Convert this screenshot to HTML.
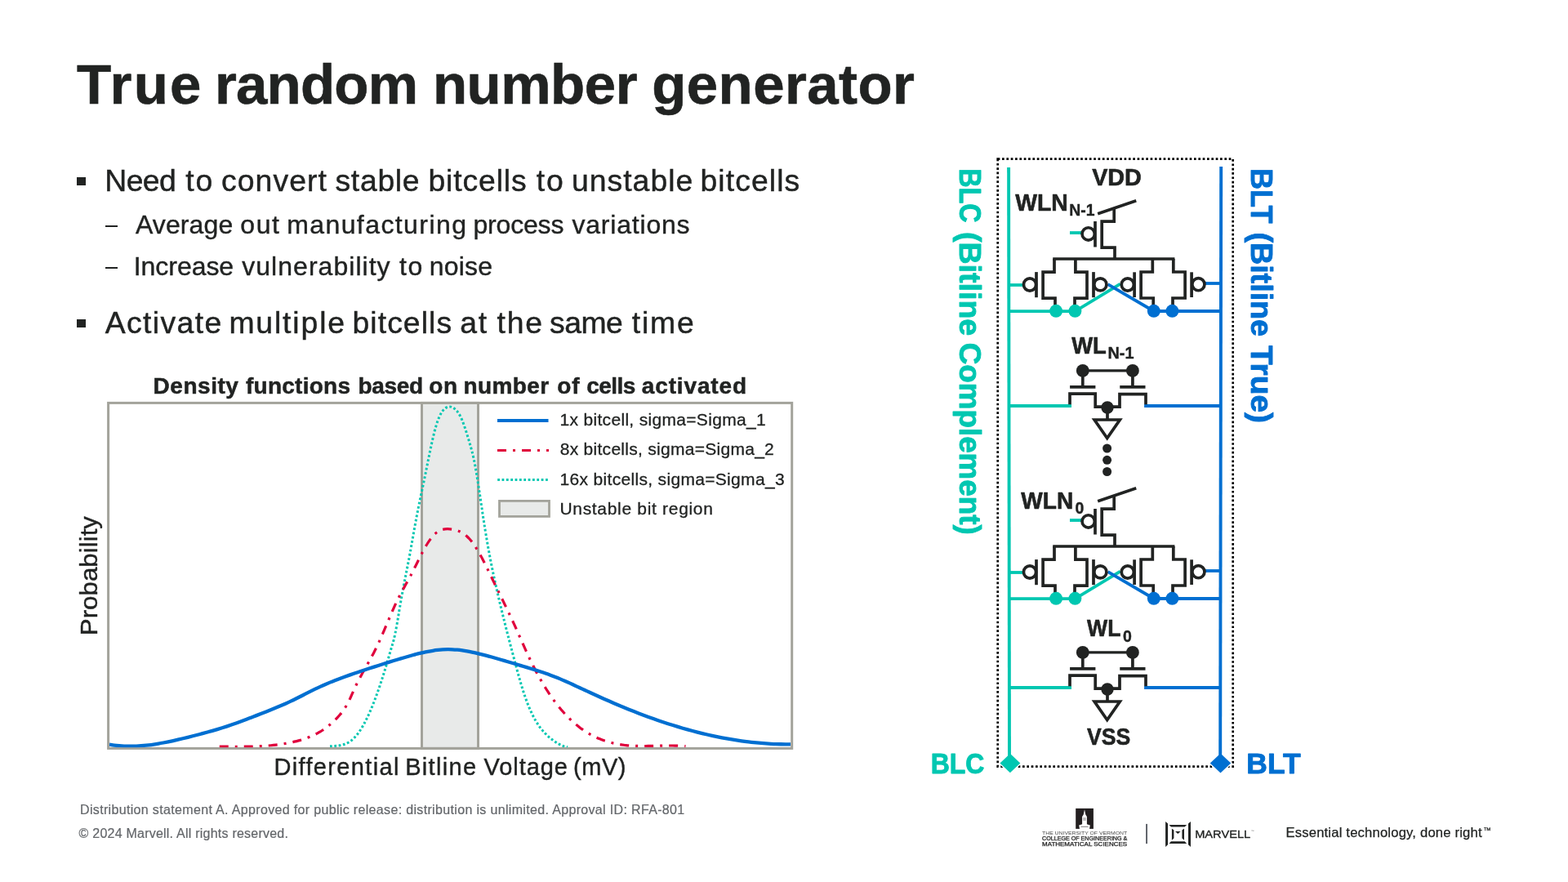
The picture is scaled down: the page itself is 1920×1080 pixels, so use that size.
<!DOCTYPE html>
<html lang="en">
<head>
<meta charset="utf-8">
<title>True random number generator</title>
<style>
html,body{margin:0;padding:0;background:#fff}
body{width:1920px;height:1080px;overflow:hidden;position:relative;font-family:"Liberation Sans",sans-serif;color:#212322}
.slide{position:absolute;left:0;top:0;width:1920px;height:1080px;background:#fff;overflow:hidden}
.t{position:absolute;margin:0;padding:0;white-space:nowrap;font-kerning:normal}
.w{position:absolute;top:0;white-space:nowrap}
ul,li{list-style:none;margin:0;padding:0}
.mk{position:absolute;background:#212322}
.sq1{left:94.3px;top:217px;width:10.5px;height:9.9px}
.sq2{left:94.3px;top:391px;width:10.5px;height:9.9px}
.d1{left:129.3px;top:276.2px;width:14.7px;height:2.2px}
.d2{left:129.3px;top:327.2px;width:14.7px;height:2.2px}
figure{margin:0;padding:0}
svg{position:absolute;overflow:visible}
svg.plot{left:80px;top:480px}
svg.ckt{left:1120px;top:180px}
svg.logos{left:1270px;top:984px}
#tm{left:1816.2px;top:1011.9px;font-size:9.5px;line-height:10px;color:#212322;-webkit-text-stroke:0.2px #212322}
#title{left:0;top:69px;font-size:69px;line-height:69px;font-weight:bold;color:#212322;-webkit-text-stroke:0.6px #212322}
#title_w0{left:94.03px;letter-spacing:2.217px}
#title_w1{left:262.88px;letter-spacing:-0.766px}
#title_w2{left:529.94px;letter-spacing:-0.488px}
#title_w3{left:798.14px;letter-spacing:0.447px}
#b1{left:0;top:202px;font-size:37.33px;line-height:38px;font-weight:normal;color:#212322;-webkit-text-stroke:0.45px #212322}
#b1_w0{left:128.37px;letter-spacing:-0.653px}
#b1_w1{left:227.34px;letter-spacing:1.867px}
#b1_w2{left:271.00px;letter-spacing:1.088px}
#b1_w3{left:410.53px;letter-spacing:0.690px}
#b1_w4{left:524.46px;letter-spacing:0.865px}
#b1_w5{left:656.67px;letter-spacing:1.867px}
#b1_w6{left:700.00px;letter-spacing:1.014px}
#b1_w7{left:857.53px;letter-spacing:1.082px}
#s1{left:0;top:259px;font-size:32px;line-height:32px;font-weight:normal;color:#212322;-webkit-text-stroke:0.4px #212322}
#s1_w0{left:165.92px;letter-spacing:0.121px}
#s1_w1{left:294.33px;letter-spacing:1.600px}
#s1_w2{left:351.16px;letter-spacing:1.417px}
#s1_w3{left:579.44px;letter-spacing:-0.175px}
#s1_w4{left:700.39px;letter-spacing:0.808px}
#s2{left:0;top:310px;font-size:32px;line-height:32px;font-weight:normal;color:#212322;-webkit-text-stroke:0.4px #212322}
#s2_w0{left:163.75px;letter-spacing:-0.050px}
#s2_w1{left:296.27px;letter-spacing:1.030px}
#s2_w2{left:488.95px;letter-spacing:1.600px}
#s2_w3{left:525.64px;letter-spacing:0.245px}
#b2{left:0;top:376px;font-size:37.33px;line-height:38px;font-weight:normal;color:#212322;-webkit-text-stroke:0.45px #212322}
#b2_w0{left:128.70px;letter-spacing:1.388px}
#b2_w1{left:280.39px;letter-spacing:1.867px}
#b2_w2{left:431.51px;letter-spacing:1.070px}
#b2_w3{left:563.17px;letter-spacing:1.867px}
#b2_w4{left:608.47px;letter-spacing:1.867px}
#b2_w5{left:673.06px;letter-spacing:-0.520px}
#b2_w6{left:773.67px;letter-spacing:1.867px}
#ct{left:0;top:459px;font-size:28px;line-height:28px;font-weight:bold;color:#212322;-webkit-text-stroke:0.5px #212322}
#ct_w0{left:187.60px;letter-spacing:0.529px}
#ct_w1{left:301.00px;letter-spacing:0.250px}
#ct_w2{left:438.43px;letter-spacing:-0.341px}
#ct_w3{left:525.31px;letter-spacing:0.530px}
#ct_w4{left:567.55px;letter-spacing:0.375px}
#ct_w5{left:682.18px;letter-spacing:0.900px}
#ct_w6{left:718.30px;letter-spacing:-0.534px}
#ct_w7{left:785.77px;letter-spacing:0.866px}
#xl{left:0;top:925px;font-size:29px;line-height:29px;font-weight:normal;color:#212322;-webkit-text-stroke:0.4px #212322}
#xl_w0{left:335.41px;letter-spacing:1.350px}
#xl_w1{left:496.15px;letter-spacing:1.314px}
#xl_w2{left:592.59px;letter-spacing:0.934px}
#xl_w3{left:702.07px;letter-spacing:0.506px}
#lg1{left:685.53px;top:503px;font-size:21px;line-height:21px;letter-spacing:0.315px;font-weight:normal;color:#212322;-webkit-text-stroke:0.3px #212322}
#lg2{left:685.75px;top:539px;font-size:21px;line-height:21px;letter-spacing:0.280px;font-weight:normal;color:#212322;-webkit-text-stroke:0.3px #212322}
#lg3{left:685.53px;top:576px;font-size:21px;line-height:21px;letter-spacing:0.322px;font-weight:normal;color:#212322;-webkit-text-stroke:0.3px #212322}
#lg4{left:685.41px;top:612px;font-size:21px;line-height:21px;letter-spacing:0.689px;font-weight:normal;color:#212322;-webkit-text-stroke:0.3px #212322}
#f1{left:98.03px;top:984px;font-size:16px;line-height:16px;letter-spacing:0.337px;font-weight:normal;color:#63666A;-webkit-text-stroke:0.2px #63666A}
#f2{left:96.61px;top:1013px;font-size:16px;line-height:16px;letter-spacing:0.227px;font-weight:normal;color:#63666A;-webkit-text-stroke:0.2px #63666A}
#tag{left:1574.47px;top:1011px;font-size:16.6px;line-height:17px;letter-spacing:0.196px;font-weight:normal;color:#212322;-webkit-text-stroke:0.25px #212322}
</style>
</head>
<body>
<main class="slide">
<header><h1 class="t" id="title"><span class="w" id="title_w0">True</span> <span class="w" id="title_w1">random</span> <span class="w" id="title_w2">number</span> <span class="w" id="title_w3">generator</span></h1></header>
<section class="content">
<ul>
<li><span class="mk sq1"></span><p class="t" id="b1"><span class="w" id="b1_w0">Need</span> <span class="w" id="b1_w1">to</span> <span class="w" id="b1_w2">convert</span> <span class="w" id="b1_w3">stable</span> <span class="w" id="b1_w4">bitcells</span> <span class="w" id="b1_w5">to</span> <span class="w" id="b1_w6">unstable</span> <span class="w" id="b1_w7">bitcells</span></p>
<ul>
<li><span class="mk d1"></span><p class="t" id="s1"><span class="w" id="s1_w0">Average</span> <span class="w" id="s1_w1">out</span> <span class="w" id="s1_w2">manufacturing</span> <span class="w" id="s1_w3">process</span> <span class="w" id="s1_w4">variations</span></p></li>
<li><span class="mk d2"></span><p class="t" id="s2"><span class="w" id="s2_w0">Increase</span> <span class="w" id="s2_w1">vulnerability</span> <span class="w" id="s2_w2">to</span> <span class="w" id="s2_w3">noise</span></p></li>
</ul></li>
<li><span class="mk sq2"></span><p class="t" id="b2"><span class="w" id="b2_w0">Activate</span> <span class="w" id="b2_w1">multiple</span> <span class="w" id="b2_w2">bitcells</span> <span class="w" id="b2_w3">at</span> <span class="w" id="b2_w4">the</span> <span class="w" id="b2_w5">same</span> <span class="w" id="b2_w6">time</span></p></li>
</ul>
</section>
<figure class="chart">
<figcaption class="t" id="ct"><span class="w" id="ct_w0">Density</span> <span class="w" id="ct_w1">functions</span> <span class="w" id="ct_w2">based</span> <span class="w" id="ct_w3">on</span> <span class="w" id="ct_w4">number</span> <span class="w" id="ct_w5">of</span> <span class="w" id="ct_w6">cells</span> <span class="w" id="ct_w7">activated</span></figcaption>
<svg class="plot" width="900" height="450" viewBox="80 480 900 450" font-family="'Liberation Sans', sans-serif" role="img" aria-label="Density functions chart">
<defs><clipPath id="pa"><rect x="134" y="495" width="834" height="420.2"/></clipPath></defs>
<rect x="516.5" y="493.4" width="69" height="423" fill="#E8EAE9" stroke="#A3A39B" stroke-width="3"/>
<rect x="132.6" y="493.4" width="837.1" height="423" fill="none" stroke="#A3A39B" stroke-width="3"/>
<g clip-path="url(#pa)" fill="none">
<path d="M404.00,913.82 C404.33,913.80 405.33,913.74 406.00,913.70 C406.67,913.66 407.33,913.63 408.00,913.59 C408.67,913.55 409.33,913.51 410.00,913.46 C410.67,913.42 411.33,913.37 412.00,913.30 C412.67,913.24 413.33,913.17 414.00,913.09 C414.67,913.00 415.33,912.91 416.00,912.79 C416.67,912.68 417.33,912.55 418.00,912.41 C418.67,912.26 419.33,912.09 420.00,911.90 C420.67,911.71 421.33,911.49 422.00,911.25 C422.67,911.01 423.33,910.74 424.00,910.44 C424.67,910.15 425.33,909.82 426.00,909.46 C426.67,909.10 427.33,908.70 428.00,908.27 C428.67,907.84 429.33,907.37 430.00,906.86 C430.67,906.35 431.33,905.80 432.00,905.20 C432.67,904.61 433.33,903.97 434.00,903.28 C434.67,902.60 435.33,901.86 436.00,901.08 C436.67,900.31 437.33,899.48 438.00,898.61 C438.67,897.73 439.33,896.82 440.00,895.85 C440.67,894.89 441.33,893.88 442.00,892.83 C442.67,891.78 443.33,890.68 444.00,889.54 C444.67,888.40 445.33,887.21 446.00,885.98 C446.67,884.76 447.33,883.48 448.00,882.17 C448.67,880.86 449.33,879.50 450.00,878.11 C450.67,876.71 451.33,875.27 452.00,873.79 C452.67,872.32 453.33,870.79 454.00,869.24 C454.67,867.68 455.33,866.08 456.00,864.44 C456.67,862.80 457.33,861.12 458.00,859.40 C458.67,857.68 459.33,855.93 460.00,854.13 C460.67,852.34 461.33,850.51 462.00,848.64 C462.67,846.77 463.33,844.87 464.00,842.93 C464.67,840.99 465.33,839.01 466.00,837.01 C466.67,835.00 467.33,832.95 468.00,830.88 C468.67,828.80 469.33,826.70 470.00,824.56 C470.67,822.42 471.33,820.25 472.00,818.04 C472.67,815.84 473.33,813.61 474.00,811.35 C474.67,809.09 475.33,806.78 476.00,804.48 C476.67,802.19 477.33,799.81 478.00,797.57 C478.67,795.32 479.33,793.28 480.00,791.04 C480.67,788.79 481.33,786.72 482.00,784.09 C482.67,781.47 483.33,778.53 484.00,775.28 C484.67,772.04 485.33,768.36 486.00,764.64 C486.67,760.92 487.33,756.90 488.00,752.96 C488.67,749.03 489.33,744.93 490.00,741.04 C490.67,737.15 491.33,733.32 492.00,729.63 C492.67,725.95 493.33,722.42 494.00,718.93 C494.67,715.43 495.33,712.05 496.00,708.66 C496.67,705.27 497.33,701.94 498.00,698.56 C498.67,695.18 499.33,691.82 500.00,688.36 C500.67,684.90 501.33,681.39 502.00,677.78 C502.67,674.17 503.33,670.44 504.00,666.71 C504.67,662.98 505.33,659.15 506.00,655.40 C506.67,651.64 507.33,647.84 508.00,644.16 C508.67,640.49 509.33,636.84 510.00,633.33 C510.67,629.83 511.33,626.45 512.00,623.13 C512.67,619.81 513.33,616.61 514.00,613.41 C514.67,610.22 515.33,607.11 516.00,603.96 C516.67,600.81 517.33,597.71 518.00,594.54 C518.67,591.37 519.33,588.17 520.00,584.94 C520.67,581.70 521.33,578.41 522.00,575.12 C522.67,571.83 523.33,568.49 524.00,565.19 C524.67,561.90 525.33,558.57 526.00,555.34 C526.67,552.11 527.33,548.89 528.00,545.80 C528.67,542.71 529.33,539.68 530.00,536.80 C530.67,533.93 531.33,531.15 532.00,528.58 C532.67,526.00 533.33,523.57 534.00,521.35 C534.67,519.13 535.33,517.12 536.00,515.28 C536.67,513.43 537.33,511.79 538.00,510.29 C538.67,508.80 539.33,507.48 540.00,506.31 C540.67,505.13 541.33,504.11 542.00,503.22 C542.67,502.32 543.33,501.58 544.00,500.94 C544.67,500.30 545.33,499.79 546.00,499.37 C546.67,498.95 547.33,498.64 548.00,498.41 C548.67,498.19 549.33,498.06 550.00,498.01 C550.67,497.96 551.33,498.01 552.00,498.14 C552.67,498.27 553.33,498.49 554.00,498.78 C554.67,499.08 555.33,499.47 556.00,499.94 C556.67,500.40 557.33,500.94 558.00,501.59 C558.67,502.23 559.33,502.96 560.00,503.81 C560.67,504.66 561.33,505.60 562.00,506.68 C562.67,507.77 563.33,508.96 564.00,510.31 C564.67,511.66 565.33,513.16 566.00,514.78 C566.67,516.40 567.33,518.18 568.00,520.04 C568.67,521.89 569.33,523.88 570.00,525.91 C570.67,527.94 571.33,530.08 572.00,532.23 C572.67,534.38 573.33,536.61 574.00,538.83 C574.67,541.06 575.33,543.26 576.00,545.60 C576.67,547.94 577.33,550.26 578.00,552.87 C578.67,555.48 579.33,558.19 580.00,561.27 C580.67,564.34 581.33,567.72 582.00,571.33 C582.67,574.93 583.33,578.87 584.00,582.91 C584.67,586.95 585.33,591.25 586.00,595.57 C586.67,599.90 587.33,604.41 588.00,608.88 C588.67,613.34 589.33,617.92 590.00,622.37 C590.67,626.83 591.33,631.30 592.00,635.62 C592.67,639.94 593.33,644.17 594.00,648.29 C594.67,652.41 595.33,656.42 596.00,660.33 C596.67,664.24 597.33,668.04 598.00,671.74 C598.67,675.44 599.33,679.03 600.00,682.52 C600.67,686.02 601.33,689.40 602.00,692.72 C602.67,696.03 603.33,699.25 604.00,702.41 C604.67,705.58 605.33,708.66 606.00,711.70 C606.67,714.75 607.33,717.73 608.00,720.69 C608.67,723.64 609.33,726.55 610.00,729.43 C610.67,732.31 611.33,735.15 612.00,737.96 C612.67,740.78 613.33,743.55 614.00,746.30 C614.67,749.06 615.33,751.78 616.00,754.48 C616.67,757.17 617.33,759.85 618.00,762.50 C618.67,765.15 619.33,767.78 620.00,770.39 C620.67,773.01 621.33,775.60 622.00,778.18 C622.67,780.76 623.33,783.32 624.00,785.88 C624.67,788.44 625.33,790.98 626.00,793.52 C626.67,796.05 627.33,798.58 628.00,801.11 C628.67,803.63 629.33,806.16 630.00,808.67 C630.67,811.17 631.33,813.68 632.00,816.15 C632.67,818.62 633.33,821.08 634.00,823.50 C634.67,825.91 635.33,828.31 636.00,830.65 C636.67,832.99 637.33,835.30 638.00,837.54 C638.67,839.79 639.33,841.99 640.00,844.12 C640.67,846.25 641.33,848.33 642.00,850.32 C642.67,852.32 643.33,854.24 644.00,856.10 C644.67,857.95 645.33,859.73 646.00,861.45 C646.67,863.17 647.33,864.81 648.00,866.40 C648.67,867.99 649.33,869.51 650.00,870.97 C650.67,872.43 651.33,873.83 652.00,875.18 C652.67,876.53 653.33,877.82 654.00,879.05 C654.67,880.29 655.33,881.47 656.00,882.61 C656.67,883.75 657.33,884.83 658.00,885.87 C658.67,886.91 659.33,887.91 660.00,888.86 C660.67,889.81 661.33,890.72 662.00,891.60 C662.67,892.47 663.33,893.30 664.00,894.10 C664.67,894.90 665.33,895.67 666.00,896.40 C666.67,897.14 667.33,897.84 668.00,898.51 C668.67,899.19 669.33,899.83 670.00,900.46 C670.67,901.08 671.33,901.68 672.00,902.26 C672.67,902.84 673.33,903.39 674.00,903.94 C674.67,904.48 675.33,905.00 676.00,905.51 C676.67,906.02 677.33,906.52 678.00,907.00 C678.67,907.48 679.33,907.95 680.00,908.40 C680.67,908.85 681.33,909.28 682.00,909.69 C682.67,910.10 683.33,910.49 684.00,910.86 C684.67,911.23 685.33,911.58 686.00,911.91 C686.67,912.23 687.33,912.53 688.00,912.81 C688.67,913.08 689.33,913.34 690.00,913.56 C690.67,913.78 691.33,913.98 692.00,914.14 C692.67,914.31 693.50,914.46 694.00,914.55 C694.50,914.64 694.83,914.66 695.00,914.68" stroke="#00C7B1" stroke-width="3" stroke-dasharray="2.75 2.6"/>
<path d="M268.75,914.20 C269.25,914.20 270.75,914.20 271.75,914.20 C272.75,914.20 273.75,914.20 274.75,914.20 C275.75,914.20 276.75,914.20 277.75,914.21 C278.75,914.21 279.75,914.21 280.75,914.22 C281.75,914.22 282.75,914.22 283.75,914.22 C284.75,914.23 285.75,914.23 286.75,914.23 C287.75,914.23 288.75,914.23 289.75,914.23 C290.75,914.23 291.75,914.23 292.75,914.23 C293.75,914.22 294.75,914.22 295.75,914.22 C296.75,914.21 297.75,914.20 298.75,914.19 C299.75,914.18 300.75,914.17 301.75,914.16 C302.75,914.15 303.75,914.13 304.75,914.11 C305.75,914.09 306.75,914.07 307.75,914.05 C308.75,914.02 309.75,914.00 310.75,913.97 C311.75,913.94 312.75,913.90 313.75,913.86 C314.75,913.83 315.75,913.79 316.75,913.74 C317.75,913.70 318.75,913.65 319.75,913.59 C320.75,913.54 321.75,913.48 322.75,913.42 C323.75,913.36 324.75,913.29 325.75,913.22 C326.75,913.15 327.75,913.07 328.75,912.99 C329.75,912.91 330.75,912.82 331.75,912.73 C332.75,912.63 333.75,912.53 334.75,912.43 C335.75,912.32 336.75,912.21 337.75,912.10 C338.75,911.98 339.75,911.86 340.75,911.73 C341.75,911.60 342.75,911.46 343.75,911.32 C344.75,911.17 345.75,911.02 346.75,910.86 C347.75,910.71 348.75,910.54 349.75,910.37 C350.75,910.20 351.75,910.02 352.75,909.83 C353.75,909.64 354.75,909.44 355.75,909.24 C356.75,909.03 357.75,908.82 358.75,908.60 C359.75,908.38 360.75,908.15 361.75,907.91 C362.75,907.67 363.75,907.42 364.75,907.16 C365.75,906.89 366.75,906.62 367.75,906.34 C368.75,906.05 369.75,905.76 370.75,905.44 C371.75,905.13 372.75,904.80 373.75,904.46 C374.75,904.11 375.75,903.75 376.75,903.37 C377.75,903.00 378.75,902.60 379.75,902.18 C380.75,901.77 381.75,901.33 382.75,900.87 C383.75,900.42 384.75,899.94 385.75,899.44 C386.75,898.94 387.75,898.41 388.75,897.86 C389.75,897.31 390.75,896.74 391.75,896.14 C392.75,895.54 393.75,894.92 394.75,894.26 C395.75,893.61 396.75,892.93 397.75,892.21 C398.75,891.50 399.75,890.76 400.75,889.99 C401.75,889.22 402.75,888.42 403.75,887.58 C404.75,886.74 405.75,885.87 406.75,884.97 C407.75,884.07 408.75,883.13 409.75,882.15 C410.75,881.18 411.75,880.18 412.75,879.12 C413.75,878.06 414.75,876.98 415.75,875.81 C416.75,874.65 417.75,873.43 418.75,872.11 C419.75,870.79 420.75,869.40 421.75,867.87 C422.75,866.35 423.75,864.73 424.75,862.96 C425.75,861.19 426.75,859.29 427.75,857.25 C428.75,855.20 429.75,852.92 430.75,850.70 C431.75,848.48 432.75,846.11 433.75,843.92 C434.75,841.74 435.75,839.63 436.75,837.60 C437.75,835.57 438.75,833.64 439.75,831.74 C440.75,829.84 441.75,828.00 442.75,826.18 C443.75,824.35 444.75,822.58 445.75,820.80 C446.75,819.02 447.75,817.27 448.75,815.50 C449.75,813.73 450.75,811.97 451.75,810.18 C452.75,808.40 453.75,806.60 454.75,804.76 C455.75,802.92 456.75,801.06 457.75,799.14 C458.75,797.22 459.75,795.26 460.75,793.22 C461.75,791.18 462.75,789.07 463.75,786.91 C464.75,784.75 465.75,782.51 466.75,780.25 C467.75,777.99 468.75,775.66 469.75,773.34 C470.75,771.01 471.75,768.64 472.75,766.28 C473.75,763.92 474.75,761.54 475.75,759.19 C476.75,756.84 477.75,754.48 478.75,752.17 C479.75,749.86 480.75,747.57 481.75,745.33 C482.75,743.10 483.75,740.90 484.75,738.78 C485.75,736.66 486.75,734.61 487.75,732.62 C488.75,730.62 489.75,728.70 490.75,726.81 C491.75,724.91 492.75,723.08 493.75,721.24 C494.75,719.41 495.75,717.62 496.75,715.81 C497.75,714.01 498.75,712.22 499.75,710.40 C500.75,708.58 501.75,706.77 502.75,704.90 C503.75,703.03 504.75,701.13 505.75,699.19 C506.75,697.25 507.75,695.24 508.75,693.24 C509.75,691.25 510.75,689.21 511.75,687.20 C512.75,685.19 513.75,683.17 514.75,681.20 C515.75,679.24 516.75,677.28 517.75,675.41 C518.75,673.54 519.75,671.70 520.75,669.97 C521.75,668.23 522.75,666.57 523.75,665.00 C524.75,663.44 525.75,661.96 526.75,660.59 C527.75,659.22 528.75,657.95 529.75,656.80 C530.75,655.65 531.75,654.61 532.75,653.69 C533.75,652.78 534.75,652.00 535.75,651.32 C536.75,650.65 537.75,650.10 538.75,649.63 C539.75,649.16 540.75,648.81 541.75,648.52 C542.75,648.24 543.75,648.05 544.75,647.91 C545.75,647.78 546.75,647.72 547.75,647.71 C548.75,647.69 549.75,647.74 550.75,647.82 C551.75,647.90 552.75,648.01 553.75,648.16 C554.75,648.32 555.75,648.50 556.75,648.74 C557.75,648.97 558.75,649.25 559.75,649.59 C560.75,649.93 561.75,650.31 562.75,650.77 C563.75,651.22 564.75,651.74 565.75,652.33 C566.75,652.92 567.75,653.57 568.75,654.31 C569.75,655.05 570.75,655.86 571.75,656.77 C572.75,657.67 573.75,658.66 574.75,659.75 C575.75,660.84 576.75,662.02 577.75,663.30 C578.75,664.58 579.75,665.97 580.75,667.43 C581.75,668.89 582.75,670.45 583.75,672.06 C584.75,673.68 585.75,675.39 586.75,677.14 C587.75,678.89 588.75,680.72 589.75,682.58 C590.75,684.45 591.75,686.37 592.75,688.32 C593.75,690.27 594.75,692.27 595.75,694.29 C596.75,696.30 597.75,698.35 598.75,700.41 C599.75,702.46 600.75,704.54 601.75,706.62 C602.75,708.69 603.75,710.77 604.75,712.83 C605.75,714.90 606.75,716.96 607.75,719.01 C608.75,721.06 609.75,723.10 610.75,725.15 C611.75,727.19 612.75,729.23 613.75,731.27 C614.75,733.31 615.75,735.35 616.75,737.41 C617.75,739.46 618.75,741.51 619.75,743.58 C620.75,745.65 621.75,747.73 622.75,749.82 C623.75,751.92 624.75,754.03 625.75,756.16 C626.75,758.29 627.75,760.43 628.75,762.61 C629.75,764.78 630.75,766.98 631.75,769.20 C632.75,771.42 633.75,773.67 634.75,775.92 C635.75,778.17 636.75,780.43 637.75,782.69 C638.75,784.95 639.75,787.21 640.75,789.45 C641.75,791.69 642.75,793.93 643.75,796.13 C644.75,798.34 645.75,800.53 646.75,802.67 C647.75,804.81 648.75,806.93 649.75,808.99 C650.75,811.06 651.75,813.09 652.75,815.07 C653.75,817.06 654.75,819.01 655.75,820.91 C656.75,822.82 657.75,824.69 658.75,826.52 C659.75,828.35 660.75,830.15 661.75,831.90 C662.75,833.66 663.75,835.38 664.75,837.06 C665.75,838.74 666.75,840.38 667.75,841.99 C668.75,843.60 669.75,845.18 670.75,846.71 C671.75,848.25 672.75,849.76 673.75,851.22 C674.75,852.69 675.75,854.13 676.75,855.53 C677.75,856.93 678.75,858.30 679.75,859.63 C680.75,860.97 681.75,862.27 682.75,863.54 C683.75,864.81 684.75,866.05 685.75,867.26 C686.75,868.47 687.75,869.64 688.75,870.79 C689.75,871.94 690.75,873.05 691.75,874.14 C692.75,875.23 693.75,876.28 694.75,877.31 C695.75,878.34 696.75,879.34 697.75,880.31 C698.75,881.28 699.75,882.23 700.75,883.14 C701.75,884.06 702.75,884.95 703.75,885.81 C704.75,886.68 705.75,887.51 706.75,888.32 C707.75,889.13 708.75,889.92 709.75,890.68 C710.75,891.44 711.75,892.18 712.75,892.89 C713.75,893.60 714.75,894.29 715.75,894.95 C716.75,895.62 717.75,896.26 718.75,896.88 C719.75,897.50 720.75,898.09 721.75,898.67 C722.75,899.24 723.75,899.79 724.75,900.33 C725.75,900.86 726.75,901.37 727.75,901.86 C728.75,902.35 729.75,902.82 730.75,903.27 C731.75,903.73 732.75,904.16 733.75,904.57 C734.75,904.99 735.75,905.38 736.75,905.76 C737.75,906.14 738.75,906.50 739.75,906.84 C740.75,907.18 741.75,907.51 742.75,907.82 C743.75,908.13 744.75,908.42 745.75,908.70 C746.75,908.98 747.75,909.24 748.75,909.49 C749.75,909.74 750.75,909.97 751.75,910.19 C752.75,910.41 753.75,910.62 754.75,910.81 C755.75,911.00 756.75,911.18 757.75,911.35 C758.75,911.52 759.75,911.67 760.75,911.82 C761.75,911.96 762.75,912.09 763.75,912.22 C764.75,912.34 765.75,912.45 766.75,912.55 C767.75,912.65 768.75,912.74 769.75,912.82 C770.75,912.91 771.75,912.98 772.75,913.04 C773.75,913.11 774.75,913.17 775.75,913.22 C776.75,913.26 777.75,913.31 778.75,913.34 C779.75,913.38 780.75,913.40 781.75,913.43 C782.75,913.45 783.75,913.46 784.75,913.47 C785.75,913.49 786.75,913.49 787.75,913.49 C788.75,913.49 789.75,913.49 790.75,913.48 C791.75,913.48 792.75,913.47 793.75,913.45 C794.75,913.44 795.75,913.42 796.75,913.41 C797.75,913.39 798.75,913.37 799.75,913.35 C800.75,913.33 801.75,913.30 802.75,913.28 C803.75,913.26 804.75,913.23 805.75,913.21 C806.75,913.19 807.75,913.16 808.75,913.14 C809.75,913.12 810.75,913.10 811.75,913.08 C812.75,913.06 813.75,913.05 814.75,913.03 C815.75,913.02 816.75,913.01 817.75,913.00 C818.75,912.99 819.75,912.98 820.75,912.98 C821.75,912.98 822.75,912.99 823.75,913.00 C824.75,913.01 825.75,913.02 826.75,913.04 C827.75,913.06 828.75,913.08 829.75,913.12 C830.75,913.15 831.75,913.19 832.75,913.23 C833.75,913.28 834.75,913.33 835.75,913.40 C836.75,913.46 838.12,913.56 838.75,913.61 C839.38,913.65 839.38,913.66 839.50,913.67" stroke="#E0003C" stroke-width="3.2" stroke-dasharray="11 8 3 8"/>
<path d="M134.00,911.59 C135.00,911.74 138.00,912.25 140.00,912.51 C142.00,912.77 144.00,912.98 146.00,913.16 C148.00,913.33 150.00,913.46 152.00,913.56 C154.00,913.65 156.00,913.70 158.00,913.72 C160.00,913.73 162.00,913.71 164.00,913.66 C166.00,913.60 168.00,913.51 170.00,913.39 C172.00,913.27 174.00,913.11 176.00,912.93 C178.00,912.75 180.00,912.54 182.00,912.30 C184.00,912.06 186.00,911.80 188.00,911.51 C190.00,911.22 192.00,910.91 194.00,910.57 C196.00,910.24 198.00,909.88 200.00,909.51 C202.00,909.13 204.00,908.74 206.00,908.33 C208.00,907.92 210.00,907.49 212.00,907.05 C214.00,906.61 216.00,906.16 218.00,905.69 C220.00,905.23 222.00,904.75 224.00,904.27 C226.00,903.79 228.00,903.29 230.00,902.79 C232.00,902.29 234.00,901.79 236.00,901.28 C238.00,900.77 240.00,900.26 242.00,899.74 C244.00,899.21 246.00,898.69 248.00,898.15 C250.00,897.62 252.00,897.07 254.00,896.52 C256.00,895.97 258.00,895.41 260.00,894.83 C262.00,894.26 264.00,893.67 266.00,893.08 C268.00,892.48 270.00,891.87 272.00,891.24 C274.00,890.62 276.00,889.98 278.00,889.33 C280.00,888.67 282.00,888.00 284.00,887.32 C286.00,886.63 288.00,885.92 290.00,885.20 C292.00,884.48 294.00,883.75 296.00,883.00 C298.00,882.26 300.00,881.50 302.00,880.74 C304.00,879.98 306.00,879.20 308.00,878.44 C310.00,877.67 312.00,876.89 314.00,876.12 C316.00,875.35 318.00,874.57 320.00,873.79 C322.00,873.01 324.00,872.23 326.00,871.44 C328.00,870.65 330.00,869.86 332.00,869.05 C334.00,868.24 336.00,867.43 338.00,866.59 C340.00,865.76 342.00,864.92 344.00,864.06 C346.00,863.20 348.00,862.32 350.00,861.42 C352.00,860.53 354.00,859.61 356.00,858.67 C358.00,857.73 360.00,856.77 362.00,855.78 C364.00,854.80 366.00,853.79 368.00,852.78 C370.00,851.76 372.00,850.73 374.00,849.71 C376.00,848.69 378.00,847.66 380.00,846.66 C382.00,845.66 384.00,844.66 386.00,843.69 C388.00,842.72 390.00,841.78 392.00,840.86 C394.00,839.94 396.00,839.04 398.00,838.17 C400.00,837.30 402.00,836.45 404.00,835.62 C406.00,834.79 408.00,833.98 410.00,833.20 C412.00,832.41 414.00,831.65 416.00,830.90 C418.00,830.15 420.00,829.43 422.00,828.71 C424.00,827.99 426.00,827.29 428.00,826.60 C430.00,825.91 432.00,825.23 434.00,824.55 C436.00,823.87 438.00,823.21 440.00,822.54 C442.00,821.87 444.00,821.21 446.00,820.55 C448.00,819.89 450.00,819.23 452.00,818.58 C454.00,817.92 456.00,817.27 458.00,816.63 C460.00,815.98 462.00,815.34 464.00,814.70 C466.00,814.06 468.00,813.43 470.00,812.80 C472.00,812.17 474.00,811.54 476.00,810.92 C478.00,810.30 480.00,809.68 482.00,809.07 C484.00,808.45 486.00,807.84 488.00,807.24 C490.00,806.64 492.00,806.03 494.00,805.44 C496.00,804.85 498.00,804.26 500.00,803.69 C502.00,803.12 504.00,802.56 506.00,802.02 C508.00,801.48 510.00,800.96 512.00,800.46 C514.00,799.97 516.00,799.49 518.00,799.05 C520.00,798.60 522.00,798.18 524.00,797.80 C526.00,797.42 528.00,797.07 530.00,796.77 C532.00,796.46 534.00,796.19 536.00,795.97 C538.00,795.75 540.00,795.56 542.00,795.43 C544.00,795.31 546.00,795.22 548.00,795.20 C550.00,795.18 552.00,795.21 554.00,795.30 C556.00,795.38 558.00,795.53 560.00,795.72 C562.00,795.91 564.00,796.16 566.00,796.44 C568.00,796.72 570.00,797.05 572.00,797.40 C574.00,797.76 576.00,798.16 578.00,798.57 C580.00,798.99 582.00,799.44 584.00,799.90 C586.00,800.36 588.00,800.85 590.00,801.35 C592.00,801.85 594.00,802.37 596.00,802.90 C598.00,803.42 600.00,803.97 602.00,804.52 C604.00,805.08 606.00,805.64 608.00,806.22 C610.00,806.79 612.00,807.37 614.00,807.96 C616.00,808.54 618.00,809.14 620.00,809.73 C622.00,810.33 624.00,810.93 626.00,811.52 C628.00,812.12 630.00,812.72 632.00,813.31 C634.00,813.91 636.00,814.50 638.00,815.09 C640.00,815.69 642.00,816.28 644.00,816.88 C646.00,817.48 648.00,818.08 650.00,818.69 C652.00,819.31 654.00,819.92 656.00,820.56 C658.00,821.19 660.00,821.83 662.00,822.49 C664.00,823.15 666.00,823.82 668.00,824.52 C670.00,825.21 672.00,825.92 674.00,826.66 C676.00,827.40 678.00,828.15 680.00,828.94 C682.00,829.72 684.00,830.54 686.00,831.37 C688.00,832.21 690.00,833.08 692.00,833.96 C694.00,834.84 696.00,835.75 698.00,836.66 C700.00,837.58 702.00,838.51 704.00,839.43 C706.00,840.36 708.00,841.30 710.00,842.23 C712.00,843.16 714.00,844.09 716.00,845.02 C718.00,845.94 720.00,846.87 722.00,847.79 C724.00,848.71 726.00,849.62 728.00,850.53 C730.00,851.44 732.00,852.35 734.00,853.25 C736.00,854.15 738.00,855.04 740.00,855.93 C742.00,856.82 744.00,857.70 746.00,858.57 C748.00,859.45 750.00,860.32 752.00,861.18 C754.00,862.04 756.00,862.89 758.00,863.73 C760.00,864.57 762.00,865.41 764.00,866.23 C766.00,867.06 768.00,867.88 770.00,868.68 C772.00,869.49 774.00,870.29 776.00,871.08 C778.00,871.86 780.00,872.64 782.00,873.41 C784.00,874.18 786.00,874.94 788.00,875.69 C790.00,876.44 792.00,877.18 794.00,877.91 C796.00,878.64 798.00,879.36 800.00,880.07 C802.00,880.78 804.00,881.48 806.00,882.16 C808.00,882.85 810.00,883.53 812.00,884.20 C814.00,884.87 816.00,885.52 818.00,886.17 C820.00,886.82 822.00,887.45 824.00,888.07 C826.00,888.70 828.00,889.31 830.00,889.91 C832.00,890.52 834.00,891.11 836.00,891.69 C838.00,892.27 840.00,892.83 842.00,893.39 C844.00,893.95 846.00,894.49 848.00,895.02 C850.00,895.56 852.00,896.08 854.00,896.59 C856.00,897.10 858.00,897.59 860.00,898.08 C862.00,898.56 864.00,899.04 866.00,899.50 C868.00,899.96 870.00,900.41 872.00,900.84 C874.00,901.28 876.00,901.70 878.00,902.11 C880.00,902.52 882.00,902.92 884.00,903.30 C886.00,903.69 888.00,904.06 890.00,904.42 C892.00,904.78 894.00,905.12 896.00,905.46 C898.00,905.79 900.00,906.11 902.00,906.41 C904.00,906.72 906.00,907.01 908.00,907.29 C910.00,907.57 912.00,907.83 914.00,908.08 C916.00,908.34 918.00,908.57 920.00,908.80 C922.00,909.02 924.00,909.23 926.00,909.42 C928.00,909.62 930.00,909.80 932.00,909.96 C934.00,910.13 936.00,910.28 938.00,910.42 C940.00,910.56 942.00,910.68 944.00,910.79 C946.00,910.89 948.00,910.99 950.00,911.06 C952.00,911.14 954.00,911.20 956.00,911.25 C958.00,911.30 960.00,911.33 962.00,911.35 C964.00,911.37 966.95,911.35 968.00,911.35 C969.05,911.35 968.25,911.35 968.30,911.35" stroke="#006FD1" stroke-width="4.3"/>
</g>
<line x1="609" y1="515" x2="671.5" y2="515" stroke="#006FD1" stroke-width="4"/>
<line x1="609" y1="551.5" x2="672" y2="551.5" stroke="#E0003C" stroke-width="2.9" stroke-dasharray="11 8 3 8"/>
<line x1="609.2" y1="587.5" x2="672" y2="587.5" stroke="#00C7B1" stroke-width="2.8" stroke-dasharray="2.75 2.6"/>
<rect x="611.5" y="613.4" width="61" height="19" fill="#E8EAE9" stroke="#A3A39B" stroke-width="2.8"/>
<text id="yl" font-size="30" font-weight="normal" fill="#212322" stroke="#212322" stroke-width="0.4" stroke-linejoin="round" textLength="146.30" lengthAdjust="spacingAndGlyphs" transform="translate(118.75,778.25) rotate(-90)">Probability</text>
</svg>
<div class="t" id="xl"><span class="w" id="xl_w0">Differential</span> <span class="w" id="xl_w1">Bitline</span> <span class="w" id="xl_w2">Voltage</span> <span class="w" id="xl_w3">(mV)</span></div>
<div class="t" id="lg1">1x bitcell, sigma=Sigma_1</div>
<div class="t" id="lg2">8x bitcells, sigma=Sigma_2</div>
<div class="t" id="lg3">16x bitcells, sigma=Sigma_3</div>
<div class="t" id="lg4">Unstable bit region</div>
</figure>
<figure class="circuit">
<svg class="ckt" width="500" height="790" viewBox="1120 180 500 790" font-family="'Liberation Sans', sans-serif" role="img" aria-label="Bitcell array schematic">
<rect x="1221.7" y="194.7" width="288" height="743.9" fill="none" stroke="#000" stroke-width="2.67" stroke-dasharray="2.67 2.67"/>
<path d="M1236.9,922.7 L1249.3,934.5 L1236.9,946.3 L1224.5,934.5 Z" fill="#00C7B1" stroke="#fff" stroke-width="2.6" paint-order="stroke"/>
<path d="M1494.5,922.5 L1507.2,934.5 L1494.5,946.5 L1481.8,934.5 Z" fill="#006FD1" stroke="#fff" stroke-width="2.6" paint-order="stroke"/>
<path d="M1235.1,205 L1236,930" stroke="#00C7B1" stroke-width="3.9" fill="none"/>
<path d="M1495.2,204 L1494.2,930" stroke="#006FD1" stroke-width="3.9" fill="none"/>
<g fill="none" stroke="#00C7B1" stroke-width="3.8">
<path d="M1310,285.05 H1326"/>
<path d="M1235,349 H1253"/>
<path d="M1235,381.1 H1316.5 L1371.8,347.6"/>
<path d="M1235,497 H1312"/>
</g>
<g fill="none" stroke="#006FD1" stroke-width="3.8">
<path d="M1495,347 H1476"/>
<path d="M1495,381 H1412.8 L1356.6,348.2"/>
<path d="M1495,497 H1401.1"/>
</g>
<g fill="none" stroke="#212322" stroke-width="3.7" stroke-linejoin="miter">
<path d="M1344.2,261.7 L1391.25,245.8"/>
<path d="M1364.2,255 V271.2 H1349.2 V303.1 H1365 V317"/>
<path d="M1341,271 V302.5"/>
<circle cx="1332.7" cy="286.4" r="7.65" fill="#fff"/>
<path d="M1289.2,317 H1438.4"/>
<path d="M1291,317 V333.1 H1277.1 V365.2 H1292 V376"/>
<path d="M1316.9,317 V333.1 H1331 V365.2 H1316 V376"/>
<path d="M1269,333.1 V364.2"/>
<path d="M1339,333.1 V364.2"/>
<circle cx="1261" cy="348.5" r="7.55" fill="#fff"/>
<circle cx="1347.35" cy="348.4" r="7.55" fill="#fff"/>
<path d="M1411.3,317 V333 H1397.1 V365 H1412.2 V376"/>
<path d="M1436.8,317 V333 H1451.1 V365 H1436 V376"/>
<path d="M1389.1,333.3 V364"/>
<path d="M1459.1,333.3 V364"/>
<circle cx="1380.8" cy="348.5" r="7.55" fill="#fff"/>
<circle cx="1467.4" cy="348.2" r="7.55" fill="#fff"/>
<path d="M1325.8,453.9 H1386.9" stroke-width="3.3"/>
<path d="M1325.8,453.9 V473.9 M1386.9,453.9 V473.9"/>
<path d="M1310.1,473.9 H1341.4 M1371.25,473.9 H1402.5"/>
<path d="M1310,495.2 V482.2 H1341.2 V498.2 H1371 V482.6 H1403 V495.2"/>
<path d="M1356,499 V513"/>
<path d="M1340.1,514 H1371.3 L1355.7,536.6 Z"/>
</g>
<g fill="#00C7B1"><circle cx="1293.1" cy="380.8" r="8"/><circle cx="1316.4" cy="380.8" r="8"/></g>
<g fill="#006FD1"><circle cx="1412.8" cy="380.8" r="8"/><circle cx="1435.4" cy="380.8" r="8"/></g>
<g fill="#212322"><circle cx="1325.8" cy="453.9" r="7.9"/><circle cx="1386.9" cy="453.9" r="7.9"/><circle cx="1356" cy="499" r="7.7"/></g>
<g fill="none" stroke="#00C7B1" stroke-width="3.8">
<path d="M1310,637.05 H1326"/>
<path d="M1235,701 H1253"/>
<path d="M1235,733.1 H1316.5 L1371.8,699.6"/>
<path d="M1235,842 H1312"/>
</g>
<g fill="none" stroke="#006FD1" stroke-width="3.8">
<path d="M1495,699 H1476"/>
<path d="M1495,733 H1412.8 L1356.6,700.2"/>
<path d="M1495,842 H1401.1"/>
</g>
<g fill="none" stroke="#212322" stroke-width="3.7" stroke-linejoin="miter">
<path d="M1344.2,613.7 L1391.25,597.8"/>
<path d="M1364.2,607 V623.2 H1349.2 V655.1 H1365 V669"/>
<path d="M1341,623 V654.5"/>
<circle cx="1332.7" cy="638.4" r="7.65" fill="#fff"/>
<path d="M1289.2,669 H1438.4"/>
<path d="M1291,669 V685.1 H1277.1 V717.2 H1292 V728"/>
<path d="M1316.9,669 V685.1 H1331 V717.2 H1316 V728"/>
<path d="M1269,685.1 V716.2"/>
<path d="M1339,685.1 V716.2"/>
<circle cx="1261" cy="700.5" r="7.55" fill="#fff"/>
<circle cx="1347.35" cy="700.4" r="7.55" fill="#fff"/>
<path d="M1411.3,669 V685 H1397.1 V717 H1412.2 V728"/>
<path d="M1436.8,669 V685 H1451.1 V717 H1436 V728"/>
<path d="M1389.1,685.3 V716"/>
<path d="M1459.1,685.3 V716"/>
<circle cx="1380.8" cy="700.5" r="7.55" fill="#fff"/>
<circle cx="1467.4" cy="700.2" r="7.55" fill="#fff"/>
<path d="M1325.8,798.9 H1386.9" stroke-width="3.3"/>
<path d="M1325.8,798.9 V818.9 M1386.9,798.9 V818.9"/>
<path d="M1310.1,818.9 H1341.4 M1371.25,818.9 H1402.5"/>
<path d="M1310,840.2 V827.2 H1341.2 V843.2 H1371 V827.6 H1403 V840.2"/>
<path d="M1356,844 V858"/>
<path d="M1340.1,859 H1371.3 L1355.7,881.6 Z"/>
</g>
<g fill="#00C7B1"><circle cx="1293.1" cy="732.8" r="8"/><circle cx="1316.4" cy="732.8" r="8"/></g>
<g fill="#006FD1"><circle cx="1412.8" cy="732.8" r="8"/><circle cx="1435.4" cy="732.8" r="8"/></g>
<g fill="#212322"><circle cx="1325.8" cy="798.9" r="7.9"/><circle cx="1386.9" cy="798.9" r="7.9"/><circle cx="1356" cy="844" r="7.7"/></g>
<g fill="#212322"><circle cx="1355.6" cy="549" r="5.5"/><circle cx="1355.6" cy="563.3" r="5.5"/><circle cx="1355.6" cy="577.5" r="5.5"/></g>
<text id="vdd" font-size="29" font-weight="bold" fill="#212322" stroke="#212322" stroke-width="0.6" stroke-linejoin="round" textLength="60.70" lengthAdjust="spacingAndGlyphs" x="1337.16" y="226.90">VDD</text>
<text id="wln1" font-size="29" font-weight="bold" fill="#212322" stroke="#212322" stroke-width="0.6" stroke-linejoin="round" textLength="64.55" lengthAdjust="spacingAndGlyphs" x="1243.25" y="257.80">WLN</text>
<text id="wln1s" font-size="20" font-weight="bold" fill="#212322" stroke="#212322" stroke-width="0.4" stroke-linejoin="round" textLength="31.24" lengthAdjust="spacingAndGlyphs" x="1309.19" y="264.10">N-1</text>
<text id="wl1" font-size="29" font-weight="bold" fill="#212322" stroke="#212322" stroke-width="0.6" stroke-linejoin="round" textLength="42.64" lengthAdjust="spacingAndGlyphs" x="1312.18" y="432.80">WL</text>
<text id="wl1s" font-size="20" font-weight="bold" fill="#212322" stroke="#212322" stroke-width="0.4" stroke-linejoin="round" textLength="32.07" lengthAdjust="spacingAndGlyphs" x="1356.50" y="439.10">N-1</text>
<text id="wln0" font-size="29" font-weight="bold" fill="#212322" stroke="#212322" stroke-width="0.6" stroke-linejoin="round" textLength="64.00" lengthAdjust="spacingAndGlyphs" x="1250.19" y="622.50">WLN</text>
<text id="wln0s" font-size="20" font-weight="bold" fill="#212322" stroke="#212322" stroke-width="0.4" stroke-linejoin="round" textLength="10.83" lengthAdjust="spacingAndGlyphs" x="1316.45" y="629.10">0</text>
<text id="wl0" font-size="29" font-weight="bold" fill="#212322" stroke="#212322" stroke-width="0.6" stroke-linejoin="round" textLength="41.43" lengthAdjust="spacingAndGlyphs" x="1331.03" y="778.70">WL</text>
<text id="wl0s" font-size="20" font-weight="bold" fill="#212322" stroke="#212322" stroke-width="0.4" stroke-linejoin="round" textLength="10.86" lengthAdjust="spacingAndGlyphs" x="1375.00" y="785.50">0</text>
<text id="vss" font-size="29" font-weight="bold" fill="#212322" stroke="#212322" stroke-width="0.6" stroke-linejoin="round" textLength="53.29" lengthAdjust="spacingAndGlyphs" x="1331.01" y="911.70">VSS</text>
<text id="blc" font-size="35" font-weight="bold" fill="#00C7B1" stroke="#00C7B1" stroke-width="0.9" stroke-linejoin="round" textLength="65.73" lengthAdjust="spacingAndGlyphs" x="1139.71" y="947.40">BLC</text>
<text id="blt" font-size="35" font-weight="bold" fill="#006FD1" stroke="#006FD1" stroke-width="0.9" stroke-linejoin="round" textLength="66.29" lengthAdjust="spacingAndGlyphs" x="1526.36" y="947.40">BLT</text>
<text id="vc1" font-size="36.2" font-weight="bold" fill="#00C7B1" stroke="#00C7B1" stroke-width="0.9" stroke-linejoin="round" textLength="66.35" lengthAdjust="spacingAndGlyphs" transform="translate(1175.40,206.28) rotate(90)">BLC</text>
<text id="vc2" font-size="36.2" font-weight="bold" fill="#00C7B1" stroke="#00C7B1" stroke-width="0.9" stroke-linejoin="round" textLength="127.22" lengthAdjust="spacingAndGlyphs" transform="translate(1175.40,284.00) rotate(90)">(Bitline</text>
<text id="vc3" font-size="36.2" font-weight="bold" fill="#00C7B1" stroke="#00C7B1" stroke-width="0.9" stroke-linejoin="round" textLength="234.83" lengthAdjust="spacingAndGlyphs" transform="translate(1175.40,419.82) rotate(90)">Complement)</text>
<text id="vt1" font-size="36.2" font-weight="bold" fill="#006FD1" stroke="#006FD1" stroke-width="0.9" stroke-linejoin="round" textLength="67.50" lengthAdjust="spacingAndGlyphs" transform="translate(1531.70,206.00) rotate(90)">BLT</text>
<text id="vt2" font-size="36.2" font-weight="bold" fill="#006FD1" stroke="#006FD1" stroke-width="0.9" stroke-linejoin="round" textLength="127.64" lengthAdjust="spacingAndGlyphs" transform="translate(1531.70,284.42) rotate(90)">(Bitline</text>
<text id="vt3" font-size="36.2" font-weight="bold" fill="#006FD1" stroke="#006FD1" stroke-width="0.9" stroke-linejoin="round" textLength="95.01" lengthAdjust="spacingAndGlyphs" transform="translate(1531.70,423.00) rotate(90)">True)</text>
</svg>
</figure>
<footer>
<p class="t" id="f1">Distribution statement A. Approved for public release: distribution is unlimited. Approval ID: RFA-801</p>
<p class="t" id="f2">© 2024 Marvell. All rights reserved.</p>
<svg class="logos" width="280" height="60" viewBox="1270 984 280 60" font-family="'Liberation Sans', sans-serif" role="img" aria-label="University of Vermont and Marvell logos">
<rect x="1317.2" y="989.9" width="21.7" height="25" fill="#231F20"/>
<path d="M1328,991.2 L1329.3,997.5 L1330.9,1000 L1330.9,1009.2 L1334.8,1010.6 L1334,1014.9 L1322,1014.9 L1321.2,1010.6 L1325.1,1009.2 L1325.1,1000 L1326.7,997.5 Z" fill="#fff"/>
<path d="M1326.2,1002 H1329.8 M1326.2,1004 H1329.8 M1323.5,1012.3 H1332.5" stroke="#231F20" stroke-width="0.6" fill="none"/>
<rect x="1403.1" y="1008.9" width="1.9" height="24.2" fill="#5B5F66"/>
<g fill="#212322">
<path d="M1427.1,1006 L1430.1,1008.6 L1430.1,1034.3 L1427.1,1036.9 Z"/>
<path d="M1458,1006 L1455,1008.6 L1455,1034.3 L1458,1036.9 Z"/>
<path d="M1431.5,1010 H1453.1 L1450.7,1012.6 H1433.9 Z"/>
<path d="M1431.5,1032.9 H1453.1 L1450.7,1030.3 H1433.9 Z"/>
<path d="M1434.9,1014.4 L1437.4,1016.6 L1437.4,1026.6 L1434.9,1028.8 Z"/>
<path d="M1450,1014.4 L1447.4,1016.6 L1447.4,1026.6 L1450,1028.8 Z"/>
<path d="M1439,1017.9 H1445.6 L1442.3,1021 Z"/>
</g>
<text id="uv1" font-size="6.0" font-weight="normal" fill="#4a4a4a" textLength="104.20" lengthAdjust="spacingAndGlyphs" x="1276.00" y="1022.30">THE UNIVERSITY OF VERMONT</text>
<text id="uv2" font-size="6.4" font-weight="normal" fill="#1e1e1e" stroke="#1e1e1e" stroke-width="0.25" stroke-linejoin="round" textLength="104.33" lengthAdjust="spacingAndGlyphs" x="1276.00" y="1029.00">COLLEGE OF ENGINEERING &amp;</text>
<text id="uv3" font-size="6.4" font-weight="normal" fill="#1e1e1e" stroke="#1e1e1e" stroke-width="0.25" stroke-linejoin="round" textLength="104.13" lengthAdjust="spacingAndGlyphs" x="1276.00" y="1036.10">MATHEMATICAL SCIENCES</text>
<text id="mrv" font-size="13.5" font-weight="normal" fill="#212322" stroke="#212322" stroke-width="0.35" stroke-linejoin="round" textLength="68.07" lengthAdjust="spacingAndGlyphs" x="1463.17" y="1026.20">MARVELL</text>
<text x="1532.2" y="1019.2" font-size="3.6" fill="#777">™</text>
</svg>
<p class="t" id="tag">Essential technology, done right</p><span class="t" id="tm">™</span>
</footer>
</main>
</body>
</html>
